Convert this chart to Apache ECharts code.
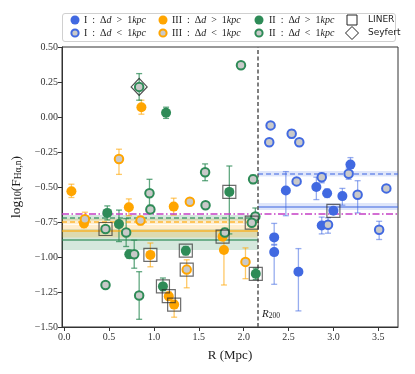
<!DOCTYPE html>
<html><head><meta charset="utf-8">
<script src="https://cdn.jsdelivr.net/npm/echarts@6/dist/echarts.min.js"></script>
<style>html,body{margin:0;padding:0;background:#fff}#c{width:415px;height:374px}</style>
</head><body><div id="c"></div>
<script>
// ---------------- data ----------------
const xTicks = [0, 0.5, 1.0, 1.5, 2.0, 2.5, 3.0, 3.5];
const yMin = -1.5, yMax = 0.5, yStep = 0.25;
const R200 = 2.16;
// each point: [R (Mpc), log10 F, error minus, error plus]
const I_far = [
  [2.47, -0.525, 0.18, 0.135], [2.81, -0.50, 0.09, 0.07], [2.93, -0.545, 0.03, 0.03],
  [3.10, -0.565, 0.065, 0.055], [3.19, -0.34, 0.05, 0.05], [3.00, -0.67, 0.02, 0.02],
  [2.87, -0.775, 0.06, 0.06], [2.34, -0.86, 0.05, 0.10], [2.34, -0.965, 0.23, 0.05],
  [2.61, -1.105, 0.28, 0.165]
];
const I_near = [
  [2.30, -0.06, 0, 0], [2.285, -0.18, 0, 0], [2.535, -0.12, 0.03, 0.03],
  [2.62, -0.18, 0.02, 0.02], [2.59, -0.46, 0, 0], [2.87, -0.43, 0.04, 0.03],
  [3.17, -0.405, 0.04, 0.04], [3.27, -0.555, 0.13, 0.10], [3.59, -0.51, 0, 0],
  [2.94, -0.77, 0.06, 0.05], [3.51, -0.805, 0.07, 0.06]
];
const III_far = [
  [0.08, -0.53, 0.045, 0.05], [0.22, -0.76, 0.03, 0.03], [0.72, -0.645, 0.06, 0.06],
  [0.96, -0.985, 0.085, 0.085], [0.86, 0.07, 0.05, 0.05], [1.22, -0.64, 0.06, 0.06],
  [1.765, -0.855, 0.02, 0.02], [1.78, -0.95, 0.25, 0.10], [1.165, -1.28, 0.03, 0.03],
  [1.225, -1.34, 0.09, 0.03]
];
const III_near = [
  [0.61, -0.30, 0.11, 0.07], [0.23, -0.73, 0.03, 0.05], [0.85, -0.74, 0.03, 0.03],
  [1.40, -0.605, 0, 0], [1.365, -1.09, 0.13, 0.07], [2.02, -1.035, 0.12, 0.10]
];
const II_far = [
  [0.48, -0.685, 0.05, 0.05], [0.61, -0.765, 0.125, 0.10], [0.725, -0.98, 0.03, 0.03],
  [1.135, 0.03, 0.04, 0.04], [1.355, -0.955, 0.03, 0.03], [1.10, -1.21, 0.03, 0.06],
  [1.84, -0.535, 0.30, 0.185], [2.135, -1.12, 0.04, 0.04]
];
const II_near = [
  [0.835, 0.215, 0.095, 0.095], [0.46, -0.80, 0.02, 0.02], [0.46, -1.20, 0, 0],
  [0.69, -0.825, 0.10, 0.10], [0.78, -0.98, 0.10, 0.10], [0.835, -1.275, 0.17, 0.17],
  [0.95, -0.545, 0.10, 0.10], [0.96, -0.66, 0.03, 0.03], [1.57, -0.395, 0.06, 0.06],
  [1.575, -0.63, 0, 0], [1.79, -0.825, 0.03, 0.03], [2.105, -0.445, 0.03, 0.03],
  [2.13, -0.71, 0.02, 0.06], [2.09, -0.755, 0.02, 0.02], [1.97, 0.37, 0, 0]
];
const LINER = [
  [0.46, -0.80], [0.96, -0.985], [1.10, -1.21], [1.165, -1.28], [1.225, -1.34],
  [1.355, -0.955], [1.365, -1.09], [1.765, -0.855], [1.84, -0.535], [2.09, -0.755],
  [2.135, -1.12], [3.00, -0.67]
];
const Seyfert = [[0.835, 0.215]];
// mean lines: [mean, band low, band high]
const II_far_mean = [-0.875, -0.95, -0.80];
const II_near_mean = [-0.72, -0.74, -0.70];
const III_far_mean = [-0.815, -0.86, -0.77];
const III_near_mean = [-0.745, -0.765, -0.725];
const I_far_mean = [-0.64, -0.665, -0.615];
const I_near_mean = [-0.405, -0.425, -0.385];
const all_mean = -0.69;
const groupNames = ['I', 'III', 'II'];
const typeNames = ['LINER', 'Seyfert'];

// ---------------- styling ----------------
const xMin = -0.025, xMax = 3.72;
const C = { I: '#4169e1', III: '#ffa500', II: '#2e8b57' };
const ERR = { I: 'rgba(65,105,225,0.55)', III: 'rgba(255,165,0,0.6)', II: 'rgba(46,139,87,0.75)' };
const BAND = { I: 'rgba(65,105,225,0.17)', III: 'rgba(255,165,0,0.2)', II: 'rgba(46,139,87,0.2)' };
const LINE = { I: 'rgba(65,105,225,0.7)', III: 'rgba(255,165,0,0.75)', II: 'rgba(46,139,87,0.8)' };
const OPEN_FILL = '#c9c9c9';
const SERIF = 'Liberation Serif';

const chart = echarts.init(document.getElementById('c'), null, { renderer: 'canvas' });

function errSeries(data, color) {
  return {
    type: 'custom', data: data, z: 3, silent: true, encode: { x: 0, y: 1 },
    renderItem: function (params, api) {
      const x = api.value(0), y = api.value(1), lo = api.value(2), hi = api.value(3);
      if (!lo && !hi) return { type: 'group', children: [] };
      const p1 = api.coord([x, y - lo]), p2 = api.coord([x, y + hi]);
      const w = 3, st = { stroke: color, lineWidth: 1.3 };
      return { type: 'group', children: [
        { type: 'line', shape: { x1: p1[0], y1: p1[1], x2: p2[0], y2: p2[1] }, style: st },
        { type: 'line', shape: { x1: p1[0] - w, y1: p1[1], x2: p1[0] + w, y2: p1[1] }, style: st },
        { type: 'line', shape: { x1: p2[0] - w, y1: p2[1], x2: p2[0] + w, y2: p2[1] }, style: st }
      ] };
    }
  };
}
function pts(data) { return data.map(d => [d[0], d[1]]); }
function filled(name, data, g) {
  return { type: 'scatter', name: name, data: pts(data), symbol: 'circle', symbolSize: 10, z: 5,
    itemStyle: { color: C[g], opacity: 1 } };
}
function open(name, data, g) {
  return { type: 'scatter', name: name, data: pts(data), symbol: 'circle', symbolSize: 8.5, z: 5,
    itemStyle: { color: OPEN_FILL, borderColor: C[g], borderWidth: 2, opacity: 1 } };
}
function seg(x0, x1, y) { return [{ coord: [x0, y] }, { coord: [x1, y] }]; }
function band(x0, x1, m) { return [{ coord: [x0, m[1]] }, { coord: [x1, m[2]] }]; }
const SOLID = 'solid', DASH = [5, 3], DASHDOT = [7, 2.5, 1.5, 2.5];
function meanSeries(g, m, x0, x1, type) {
  return { type: 'line', data: [], z: 2, silent: true,
    markArea: { silent: true, itemStyle: { color: BAND[g] }, data: [band(x0, x1, m)] },
    markLine: { silent: true, symbol: ['none', 'none'], label: { show: false },
      lineStyle: { color: LINE[g], width: 1.5, type: type }, data: [seg(x0, x1, m[0])] } };
}

function legendLabel(g, rel) {
  return '{r|' + g + ' }{p|:}{r| Δ}{i|d}{r| }{p|' + rel + '}{r| 1}{i|kpc}';
}
const legRich = {
  r: { fontFamily: SERIF, fontSize: 10, fill: '#222' },
  p: { fontFamily: SERIF, fontSize: 10, fill: '#222', padding: [0, 2.5, 0, 2.5] },
  i: { fontFamily: SERIF, fontSize: 10, fontStyle: 'italic', fill: '#222' }
};
const legCols = [75, 163, 259];
const legText = [84, 172, 269];
const legRows = [20, 33];
const graphics = [
  { type: 'rect', shape: { x: 62.5, y: 13.5, width: 333, height: 28, r: 2.5 },
    style: { fill: '#fff', stroke: '#d0d0d0', lineWidth: 1 }, z: 100 }
];
groupNames.forEach((g, k) => {
  [0, 1].forEach(row => {
    const cx = legCols[k], cy = legRows[row];
    graphics.push({ type: 'circle', shape: { cx: cx, cy: cy, r: row === 0 ? 4.5 : 3.6 },
      style: row === 0 ? { fill: C[g] } : { fill: OPEN_FILL, stroke: C[g], lineWidth: 2 }, z: 101 });
    graphics.push({ type: 'text', x: legText[k], y: cy, z: 101,
      style: { text: legendLabel(g, row === 0 ? '>' : '<'), rich: legRich, verticalAlign: 'middle', textAlign: 'left' } });
  });
});
graphics.push({ type: 'rect', shape: { x: 347, y: 15, width: 10, height: 10 },
  style: { fill: 'none', stroke: '#222', lineWidth: 1 }, z: 101 });
graphics.push({ type: 'polygon', shape: { points: [[352, 26.5], [358.5, 33], [352, 39.5], [345.5, 33]] },
  style: { fill: 'none', stroke: '#222', lineWidth: 1 }, z: 101 });
typeNames.forEach((t, row) => {
  graphics.push({ type: 'text', x: 368, y: legRows[row], z: 101,
    style: { text: t, fontFamily: 'DejaVu Sans', fontSize: 9, fill: '#222', verticalAlign: 'middle' } });
});
graphics.push({ type: 'text', x: 262, y: 314, z: 50,
  style: { text: '{i|R}{s|200}', verticalAlign: 'middle',
    rich: { i: { fontFamily: SERIF, fontStyle: 'italic', fontSize: 11, fill: '#222' },
            s: { fontFamily: SERIF, fontSize: 7.5, fill: '#222', padding: [5, 0, 0, 0] } } } });

const option = {
  animation: false,
  backgroundColor: '#fff',
  grid: { left: 62, right: 17, top: 47, bottom: 47, show: true, borderColor: '#333', borderWidth: 1, backgroundColor: 'transparent' },
  xAxis: {
    type: 'value', min: xMin, max: xMax,
    axisLine: { show: true, onZero: false, lineStyle: { color: '#333', width: 1 } },
    axisTick: { show: true, customValues: xTicks, length: 4, lineStyle: { color: '#333' } },
    axisLabel: { customValues: xTicks, formatter: v => v.toFixed(1), fontFamily: SERIF, fontSize: 10, color: '#333', margin: 5 },
    splitLine: { show: false },
    name: 'R (Mpc)', nameLocation: 'middle', nameGap: 22,
    nameTextStyle: { fontFamily: SERIF, fontSize: 13, color: '#222' }
  },
  yAxis: {
    type: 'value', min: yMin, max: yMax, interval: yStep,
    axisLine: { show: true, onZero: false, lineStyle: { color: '#333', width: 1 } },
    axisTick: { show: true, length: 4, lineStyle: { color: '#333' } },
    axisLabel: { formatter: v => (v < 0 ? '−' : '') + Math.abs(v).toFixed(2), fontFamily: SERIF, fontSize: 10, color: '#333', margin: 4 },
    splitLine: { show: false },
    name: '{r|log}{s|10}{r|(F}{s|Hα,n}{r|)}', nameLocation: 'middle', nameRotate: 90, nameGap: 32,
    nameTextStyle: { rich: {
      r: { fontFamily: SERIF, fontSize: 13.5, color: '#222' },
      s: { fontFamily: SERIF, fontSize: 9.5, color: '#222', padding: [6, 0, 0, 0] } } }
  },
  graphic: graphics,
  series: [
    meanSeries('II', II_far_mean, xMin, R200, SOLID),
    meanSeries('III', III_far_mean, xMin, R200, SOLID),
    meanSeries('III', III_near_mean, xMin, R200, DASH),
    meanSeries('II', II_near_mean, xMin, R200, DASH),
    meanSeries('I', I_far_mean, R200, xMax, SOLID),
    meanSeries('I', I_near_mean, R200, xMax, DASH),
    { type: 'line', data: [], z: 2, silent: true,
      markLine: { silent: true, symbol: ['none', 'none'], label: { show: false },
        data: [
          [{ coord: [xMin, all_mean], lineStyle: { color: '#c53fc5', width: 1.5, type: DASHDOT } }, { coord: [xMax, all_mean] }],
          [{ coord: [R200, yMin], lineStyle: { color: '#555', width: 1.5, type: [4, 2.5] } }, { coord: [R200, yMax] }]
        ] } },
    errSeries(I_far, ERR.I), errSeries(I_near, ERR.I),
    errSeries(III_far, ERR.III), errSeries(III_near, ERR.III),
    errSeries(II_far, ERR.II), errSeries(II_near, ERR.II),
    filled('I : Δd > 1kpc', I_far, 'I'), open('I : Δd < 1kpc', I_near, 'I'),
    filled('III : Δd > 1kpc', III_far, 'III'), open('III : Δd < 1kpc', III_near, 'III'),
    filled('II : Δd > 1kpc', II_far, 'II'), open('II : Δd < 1kpc', II_near, 'II'),
    { type: 'scatter', name: 'LINER', data: LINER, symbol: 'rect', symbolSize: 13, z: 6,
      itemStyle: { color: 'rgba(0,0,0,0)', borderColor: 'rgba(40,40,40,0.85)', borderWidth: 1.2 } },
    { type: 'scatter', name: 'Seyfert', data: Seyfert, symbol: 'diamond', symbolSize: [16, 17], z: 6,
      itemStyle: { color: 'rgba(0,0,0,0)', borderColor: '#222', borderWidth: 1.2 } }
  ]
};
chart.setOption(option);
</script></body></html>
